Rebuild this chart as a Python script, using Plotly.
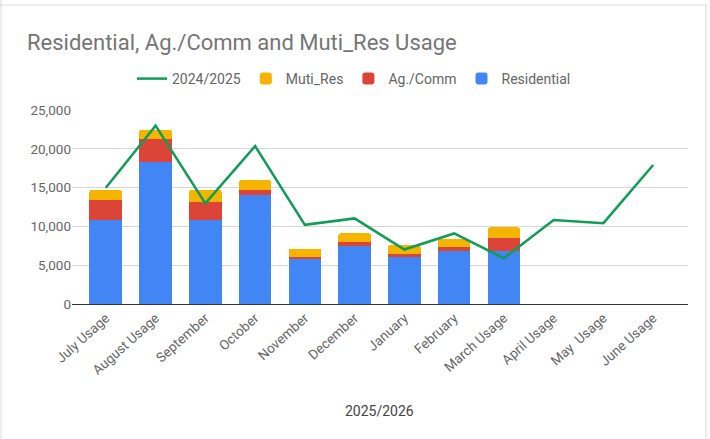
import plotly.graph_objects as go

MONTHS = [
    "July Usage", "August Usage", "September", "October", "November", "December",
    "January", "February", "March Usage", "April Usage", "May\u00a0 Usage", "June Usage",
]
RESIDENTIAL = [10850, 18330, 10850, 14030, 5770, 7490, 6030, 6800, 6800, 0, 0, 0]
AG_COMM = [2540, 2930, 2320, 650, 350, 440, 390, 560, 1720, 0, 0, 0]
MUTI_RES = [1290, 1170, 1510, 1250, 1030, 1160, 1160, 990, 1340, 0, 0, 0]
PRIOR_YEAR = [14980, 22980, 12960, 20360, 10200, 11030, 7020, 9090, 5900, 10810, 10420, 17910]

W, H = 710, 439
L, R, T, B = 72, 22, 110, 135


def px_x(px):
    return (px - L) / (W - L - R)


def px_y(py):
    return (H - B - py) / (H - T - B)


fig = go.Figure()
for name, vals, color in [
    ("Residential", RESIDENTIAL, "#4285F4"),
    ("Ag./Comm", AG_COMM, "#DB4437"),
    ("Muti_Res", MUTI_RES, "#F4B400"),
]:
    fig.add_trace(go.Bar(
        x=MONTHS, y=vals, name=name, marker_color=color,
        marker_line_width=0, width=0.657,
    ))
fig.add_trace(go.Scatter(
    x=MONTHS, y=PRIOR_YEAR, name="2024/2025", mode="lines",
    line=dict(color="#0F9D58", width=2.5),
))

# sheet frame around the chart (top, left, right edges)
frame = dict(color="#c4c4c4", width=2)
fig.add_shape(type="line", xref="paper", yref="paper",
              x0=px_x(0), x1=px_x(707), y0=px_y(5), y1=px_y(5), line=frame)
fig.add_shape(type="line", xref="paper", yref="paper",
              x0=px_x(1), x1=px_x(1), y0=px_y(0), y1=px_y(439), line=frame)
fig.add_shape(type="line", xref="paper", yref="paper",
              x0=px_x(706), x1=px_x(706), y0=px_y(5), y1=px_y(439), line=frame)

fig.update_layout(
    width=W, height=H,
    template="simple_white",
    margin=dict(l=L, r=R, t=T, b=B, autoexpand=False),
    font=dict(family="Roboto", size=13, color="#555"),
    barmode="stack",
    barcornerradius=2,
    title=dict(
        text="Residential, Ag./Comm and Muti_Res Usage",
        x=27 / W, xref="container", xanchor="left",
        y=1 - 42 / H, yref="container", yanchor="middle",
        font=dict(size=22, color="#757575"),
    ),
    legend=dict(
        orientation="h", traceorder="reversed",
        x=px_x(354), xanchor="center", y=px_y(79), yanchor="middle",
        font=dict(size=14, color="#666"), itemwidth=30,
    ),
    xaxis=dict(
        range=[-0.68, 11.7], tickangle=-42, showline=True, linecolor="#333",
        linewidth=1, ticks="", tickfont=dict(size=13.5, color="#666"),
        automargin=False,
    ),
    yaxis=dict(
        range=[0, 25000], dtick=5000, tickformat=",", showgrid=True,
        gridcolor="#d6d6d6", showline=False, ticks="",
        tickfont=dict(size=13.5, color="#666"), automargin=False,
    ),
    annotations=[dict(
        text="2025/2026", xref="paper", yref="paper",
        x=px_x(379), y=px_y(411), xanchor="center", yanchor="middle",
        showarrow=False, font=dict(size=14, color="#444"),
    )],
    plot_bgcolor="white", paper_bgcolor="white",
)

# page body has a default 8px margin; drop it so the figure sits at the corner
fig.write_html("out.html", config={"displayModeBar": False},
               post_script="document.body.style.margin='0px';")
